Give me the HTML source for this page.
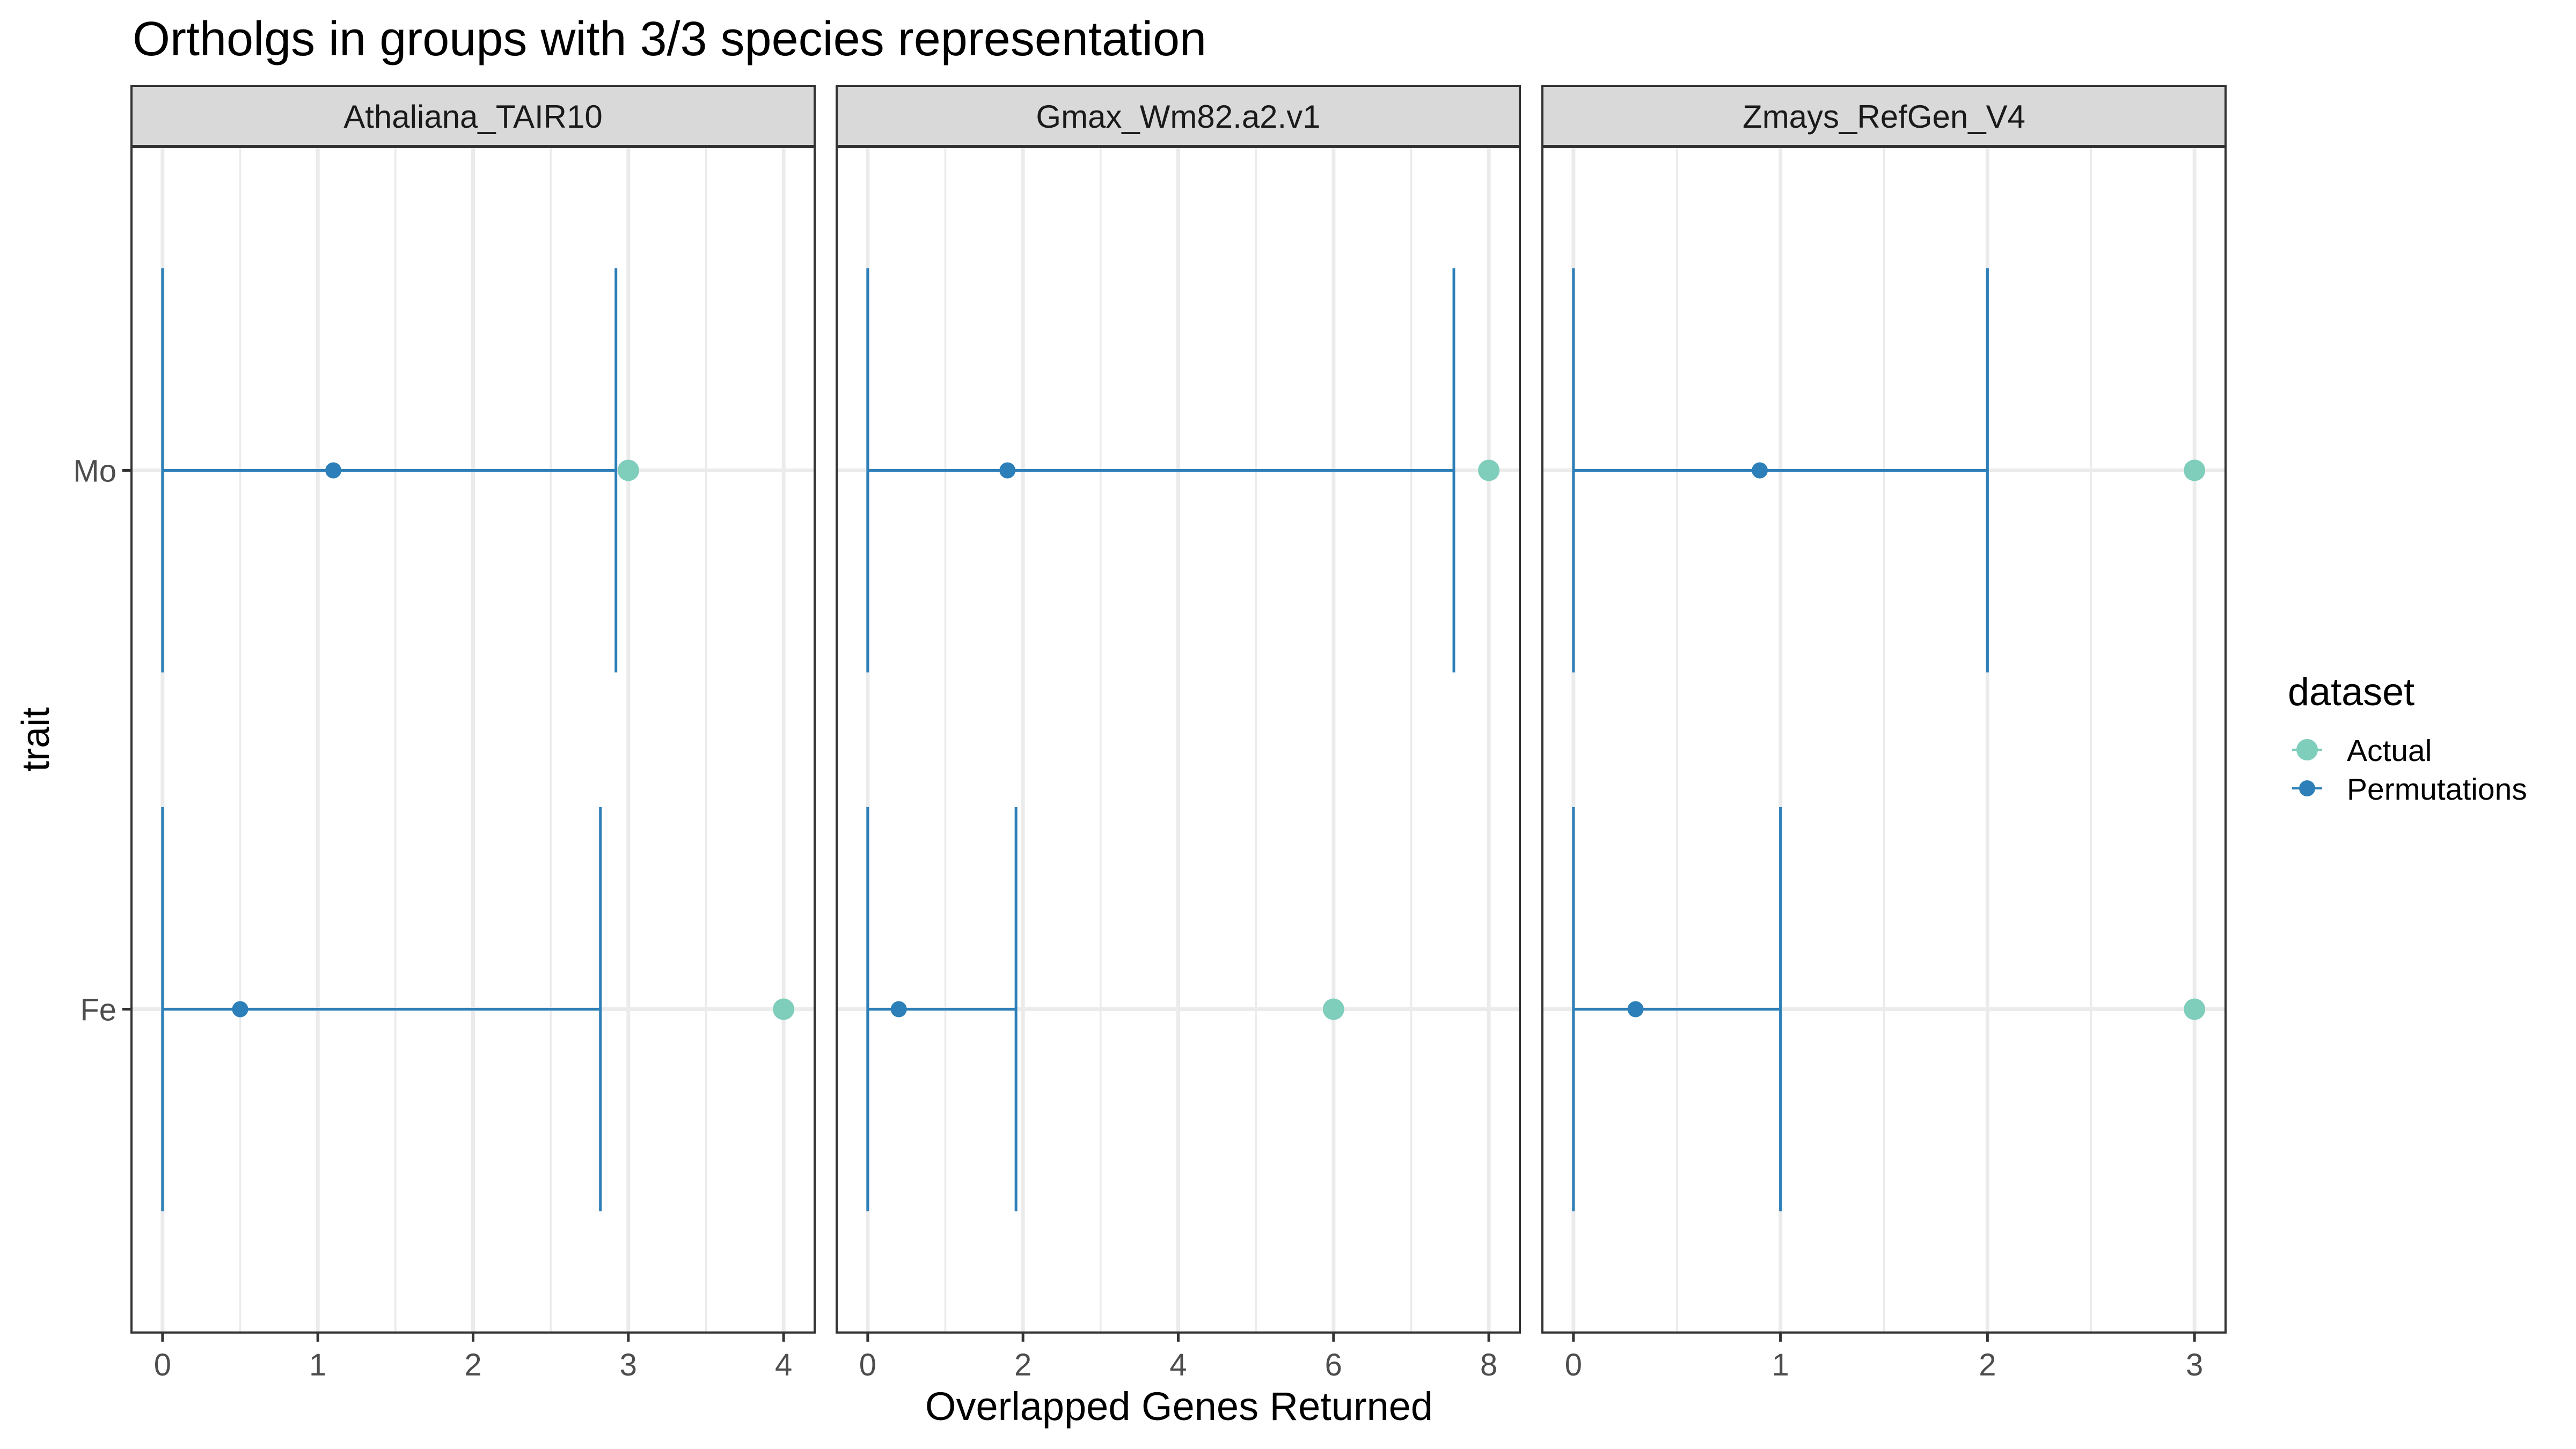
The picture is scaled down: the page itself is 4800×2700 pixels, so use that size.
<!DOCTYPE html>
<html><head><meta charset="utf-8">
<style>
html,body{margin:0;padding:0;background:#fff;}
svg{display:block;font-family:"Liberation Sans",Arial,sans-serif;}
</style></head>
<body>
<svg id="chart" width="4800" height="2700" viewBox="0 0 4800 2700" xmlns="http://www.w3.org/2000/svg">
<rect width="4800" height="2700" fill="#fff"/>
<text x="247" y="103" font-size="90" fill="#000">Ortholgs in groups with 3/3 species representation</text>
<text x="2197" y="2646" font-size="74" text-anchor="middle" fill="#000">Overlapped Genes Returned</text>
<text transform="translate(91,1378) rotate(-90)" font-size="72" text-anchor="middle" fill="#000">trait</text>
<g id="panels"></g>
<g>
<text x="4263" y="1314" font-size="72" fill="#000">dataset</text>
<g>
<line x1="4271" y1="1397" x2="4327" y2="1397" stroke="#7fcdbb" stroke-width="4"/>
<circle cx="4299" cy="1397" r="20" fill="#7fcdbb"/>
<text x="4373" y="1418" font-size="57" fill="#000">Actual</text>
</g>
<g>
<line x1="4271" y1="1469" x2="4327" y2="1469" stroke="#2c7fb8" stroke-width="4"/>
<circle cx="4299" cy="1469" r="15" fill="#2c7fb8"/>
<text x="4373" y="1490" font-size="57" fill="#000">Permutations</text>
</g>
</g>
</svg>
<script>
// Data
const facets = ["Athaliana_TAIR10", "Gmax_Wm82.a2.v1", "Zmays_RefGen_V4"];
const traits = ["Mo", "Fe"];
const permMean = [[1.1, 0.5], [1.8, 0.4], [0.9, 0.3]];
const permLow = [[0, 0], [0, 0], [0, 0]];
const permHigh = [[2.92, 2.82], [7.55, 1.91], [2.0, 1.0]];
const actual = [[3, 4], [8, 6], [3, 3]];
const xMax = [4, 8, 3];
const majorTicks = [[0, 1, 2, 3, 4], [0, 2, 4, 6, 8], [0, 1, 2, 3]];
const minorTicks = [[0.5, 1.5, 2.5, 3.5], [1, 3, 5, 7], [0.5, 1.5, 2.5]];

const NS = "http://www.w3.org/2000/svg";
const root = document.getElementById("panels");
const panelLefts = [245, 1559, 2874];
const PW = 1273, PT = 274, PB = 2483, ST = 160;
function mk(tag, attrs, parent) {
  const e = document.createElementNS(NS, tag);
  for (const k in attrs) e.setAttribute(k, attrs[k]);
  parent.appendChild(e);
  return e;
}
function yScale(i) {
  const pos = traits.length - i;
  return PB - (pos - 0.4) / 2.2 * (PB - PT);
}
facets.forEach((f, p) => {
  const L = panelLefts[p];
  const ext = xMax[p] * 0.05;
  const xs = v => L + (v + ext) / (xMax[p] + 2 * ext) * PW;
  const g = mk("g", {}, root);
  
  
  const strip = mk("rect", {x: L, y: ST, width: PW, height: PT - ST - 2, fill: "#d9d9d9", stroke: "#333", "stroke-width": 4}, g);
  
  
  const st = mk("text", {x: L + PW / 2, y: (ST + PT) / 2 + 21, "font-size": 60, "text-anchor": "middle", fill: "#1a1a1a"}, g);
  st.textContent = f;
  
  
  minorTicks[p].forEach(v => {
    const l = mk("line", {x1: xs(v), x2: xs(v), y1: PT, y2: PB, stroke: "#ebebeb", "stroke-width": 3.5}, g);
    
    
  });
  majorTicks[p].forEach(v => {
    const l = mk("line", {x1: xs(v), x2: xs(v), y1: PT, y2: PB, stroke: "#ebebeb", "stroke-width": 7}, g);
    
    
  });
  traits.forEach((t, i) => {
    const l = mk("line", {x1: L, x2: L + PW, y1: yScale(i), y2: yScale(i), stroke: "#ebebeb", "stroke-width": 7}, g);
    
    
  });
  traits.forEach((t, i) => {
    const y = yScale(i);
    const half = 0.375 / 2.2 * (PB - PT);
    const eb = mk("g", {stroke: "#2c7fb8", "stroke-width": 5, fill: "none"}, g);
    
    
    mk("line", {x1: xs(permLow[p][i]), x2: xs(permLow[p][i]), y1: y - half, y2: y + half}, eb);
    mk("line", {x1: xs(permHigh[p][i]), x2: xs(permHigh[p][i]), y1: y - half, y2: y + half}, eb);
    mk("line", {x1: xs(permLow[p][i]), x2: xs(permHigh[p][i]), y1: y, y2: y}, eb);
    const pm = mk("circle", {cx: xs(permMean[p][i]), cy: y, r: 15, fill: "#2c7fb8"}, g);
    
    
    const ac = mk("circle", {cx: xs(actual[p][i]), cy: y, r: 20, fill: "#7fcdbb"}, g);
    
    
  });
  const b = mk("rect", {x: L, y: PT, width: PW, height: PB - PT, fill: "none", stroke: "#333", "stroke-width": 4}, g);
  
  
  majorTicks[p].forEach(v => {
    const tk = mk("line", {x1: xs(v), x2: xs(v), y1: PB, y2: PB + 17, stroke: "#333", "stroke-width": 5}, g);
    
    
    const tl = mk("text", {x: xs(v), y: PB + 80, "font-size": 58, "text-anchor": "middle", fill: "#4d4d4d"}, g);
    tl.textContent = v;
    
    
  });
  if (p === 0) {
    traits.forEach((t, i) => {
      const y = yScale(i);
      const tk = mk("line", {x1: L - 17, x2: L, y1: y, y2: y, stroke: "#333", "stroke-width": 5}, g);
      
      
      const tl = mk("text", {x: L - 28, y: y + 21, "font-size": 58, "text-anchor": "end", fill: "#4d4d4d"}, g);
      tl.textContent = t;
      
      
    });
  }
});
</script>
</body></html>
